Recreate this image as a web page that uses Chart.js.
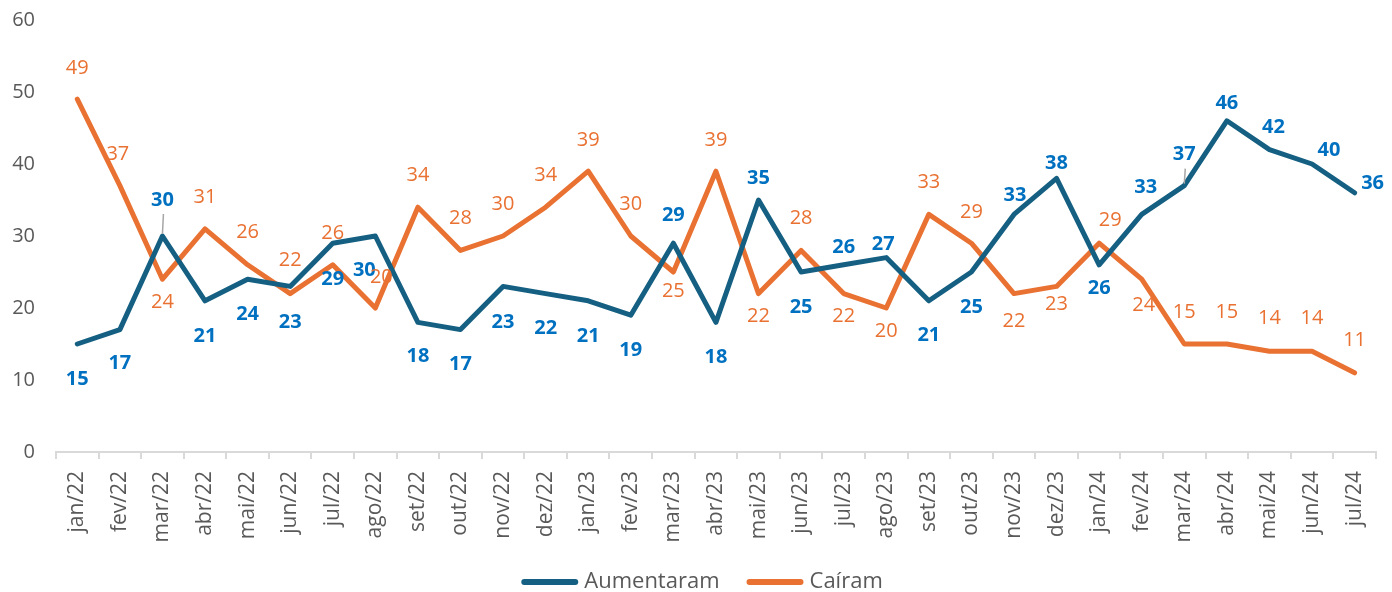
<!DOCTYPE html>
<html>
<head>
<meta charset="utf-8">
<script src="https://cdn.jsdelivr.net/npm/chart.js@4.4.1/dist/chart.umd.min.js"></script>
<style>
  html, body { margin: 0; padding: 0; background: #fff; }
  #wrap { width: 1392px; height: 592px; position: relative; }
</style>
</head>
<body>
<div id="wrap"><canvas id="chart"></canvas></div>
<script>
const months = ["jan/22","fev/22","mar/22","abr/22","mai/22","jun/22","jul/22","ago/22","set/22","out/22","nov/22","dez/22",
  "jan/23","fev/23","mar/23","abr/23","mai/23","jun/23","jul/23","ago/23","set/23","out/23","nov/23","dez/23",
  "jan/24","fev/24","mar/24","abr/24","mai/24","jun/24","jul/24"];

const aumentaram = [15,17,30,21,24,23,29,30,18,17,23,22,21,19,29,18,35,25,26,27,21,25,33,38,26,33,37,46,42,40,36];
const cairam     = [49,37,24,31,26,22,26,20,34,28,30,34,39,30,25,39,22,28,22,20,33,29,22,23,29,24,15,15,14,14,11];

const yTicks = [0,10,20,30,40,50,60];

// where each value label sits relative to its point (px): [dx, dy]
const offAum = [[0,35],[0,34],[0,-36],[0,35],[0,35],[0,36],[0,36],[-11,34],[0,34],[0,35],[0,36],[0,35],[0,35],[0,35],[0,-28],
  [0,35],[0,-22],[0,35],[0,-18],[-3,-13],[0,34],[0,35],[1,-19],[0,-15],[0,23],[4,-27],[0,-31],[0,-18],[4,-22],[17,-14],[18,-10]];
const offCai = [[0,-31],[-2,-31],[0,23],[0,-32],[0,-33],[0,-33],[0,-32],[6,-31],[0,-32],[0,-32],[0,-32],[0,-32],[0,-31],[0,-32],[0,19],
  [0,-31],[0,23],[0,-32],[0,23],[0,23],[0,-32],[0,-31],[0,28],[0,18],[11,-23],[2,26],[0,-32],[0,-32],[0,-33],[0,-33],[0,-33]];
const leaderAum = [2, 26];

const blueLine = "#156082", orangeLine = "#e97132";
const blueText = "#0070c0", orangeText = "#e97132";
const FONT = "'Open Sans', 'Liberation Sans', sans-serif";

const valueLabels = {
  id: "valueLabels",
  afterDatasetsDraw(chart) {
    const ctx = chart.ctx;
    const sets = [
      { i: 0, off: offAum, color: blueText, weight: "bold" },
      { i: 1, off: offCai, color: orangeText, weight: "normal" }
    ];
    ctx.save();
    ctx.textAlign = "center";
    ctx.textBaseline = "middle";
    sets.forEach(s => {
      const meta = chart.getDatasetMeta(s.i);
      const vals = chart.data.datasets[s.i].data;
      ctx.font = s.weight + " 20px " + FONT;
      ctx.fillStyle = s.color;
      meta.data.forEach((pt, k) => {
        const o = s.off[k];
        if (s.i === 0 && leaderAum.includes(k)) {
          ctx.save();
          ctx.strokeStyle = "#a6a6a6";
          ctx.lineWidth = 1.5;
          ctx.beginPath();
          ctx.moveTo(pt.x, pt.y - 2);
          ctx.lineTo(pt.x + 1, pt.y + o[1] + 14);
          ctx.stroke();
          ctx.restore();
        }
        ctx.fillText(String(vals[k]), pt.x + o[0], pt.y + o[1]);
      });
    });
    ctx.restore();
  }
};

// legend drawn by hand so the line/text spacing matches
const lineLegend = {
  id: "lineLegend",
  afterDraw(chart) {
    const ctx = chart.ctx;
    const y = 582;
    ctx.save();
    ctx.font = "22px " + FONT;
    ctx.textBaseline = "middle";
    const items = chart.data.datasets.map(d => ({ text: d.label, color: d.borderColor, w: ctx.measureText(d.label).width }));
    const total = items.reduce((a, it) => a + 57 + 6 + it.w, 0) + 27 * (items.length - 1);
    let x = chart.width / 2 + 6 - total / 2;
    items.forEach(it => {
      ctx.strokeStyle = it.color;
      ctx.lineWidth = 6;
      ctx.lineCap = "round";
      ctx.beginPath();
      ctx.moveTo(x + 3, y);
      ctx.lineTo(x + 54, y);
      ctx.stroke();
      ctx.fillStyle = "#595959";
      ctx.fillText(it.text, x + 63, y);
      x += 57 + 6 + it.w + 27;
    });
    ctx.restore();
  }
};

new Chart(document.getElementById("chart"), {
  type: "line",
  data: {
    labels: months,
    datasets: [
      { label: "Aumentaram", data: aumentaram, borderColor: blueLine, backgroundColor: blueLine,
        borderWidth: 5, pointRadius: 0, tension: 0, borderJoinStyle: "round", borderCapStyle: "round" },
      { label: "Caíram", data: cairam, borderColor: orangeLine, backgroundColor: orangeLine,
        borderWidth: 5, pointRadius: 0, tension: 0, borderJoinStyle: "round", borderCapStyle: "round" }
    ]
  },
  options: {
    responsive: true,
    maintainAspectRatio: false,
    animation: false,
    layout: { padding: { left: 0, right: 13, top: 0, bottom: 0 } },
    plugins: {
      tooltip: { enabled: false },
      legend: { display: false }
    },
    scales: {
      x: {
        offset: true,
        grid: { display: true, offset: true, drawOnChartArea: false, drawTicks: true, tickLength: 7, color: "#d9d9d9", lineWidth: 2 },
        border: { display: true, color: "#d9d9d9", width: 2 },
        ticks: { color: "#595959", font: { family: FONT, size: 21 }, minRotation: 90, maxRotation: 90, autoSkip: false, padding: 12 },
        afterFit(scale) { scale.height = 140; }
      },
      y: {
        min: 0, max: 60,
        grid: { display: false },
        border: { display: false },
        afterBuildTicks(scale) { scale.ticks = yTicks.map(v => ({ value: v })); },
        ticks: { color: "#595959", font: { family: FONT, size: 20, lineHeight: 1.0 }, padding: 13 },
        afterFit(scale) { scale.width = 56; scale.paddingTop = 20; }
      }
    }
  },
  plugins: [valueLabels, lineLegend]
});
</script>
</body>
</html>
